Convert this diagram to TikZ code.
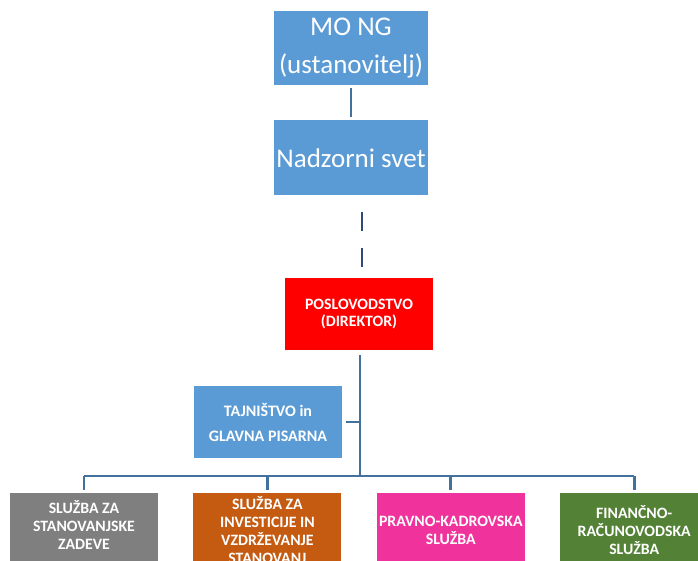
\documentclass[tikz,border=0pt]{standalone}
\usepackage{fontspec}
\setmainfont{Carlito}
\usetikzlibrary{positioning}
\definecolor{boxblue}{HTML}{5B9BD5}
\definecolor{linkblue}{HTML}{41719C}
\definecolor{dashnavy}{HTML}{2E4A78}
\definecolor{dirred}{HTML}{FF0000}
\definecolor{sgray}{HTML}{7F7F7F}
\definecolor{sorange}{HTML}{C55A11}
\definecolor{spink}{HTML}{F0339C}
\definecolor{sgreen}{HTML}{538135}

\begin{document}
\begin{tikzpicture}[x=1pt, y=-1pt,
        node distance=35pt and 35pt,
        box/.style={fill=boxblue, text=white, align=center, minimum width=154pt, minimum height=74pt, inner sep=0pt},
        unit/.style={text=white, align=center, font=\bfseries\fontsize{15.8}{17.8}\selectfont, minimum width=148pt, minimum height=74pt, inner sep=0pt},
        link/.style={draw=linkblue, line width=2.8pt}
    ]
        \useasboundingbox (0,0) rectangle (698,561);
        \clip (0,0) rectangle (698,561);

        \node[box, font=\fontsize{27}{38}\selectfont] (mong) at (351,48) {MO NG\\(ustanovitelj)};
        \node[box, below=35pt of mong, minimum height=75pt, font=\fontsize{27}{30}\selectfont] (nadzor) {Nadzorni svet};
        \node[unit, fill=dirred, minimum height=72pt] (direktor) at (359,314) {POSLOVODSTVO\\(DIREKTOR)};
        \node[unit, fill=boxblue, minimum height=72pt, font=\bfseries\fontsize{16}{25}\selectfont] (tajnistvo) at (268,422) {TAJNIŠTVO in\\GLAVNA PISARNA};

        % sluzbe
        \node[unit, fill=sgray, text depth=10pt] (stanovanja) at (84,530) {SLUŽBA ZA\\STANOVANJSKE\\ZADEVE};
        \node[unit, fill=sorange, right=of stanovanja] (investicije) {SLUŽBA ZA\\INVESTICIJE IN\\VZDRŽEVANJE\\STANOVANJ};
        \node[unit, fill=spink, right=of investicije] (pravna) {PRAVNO-KADROVSKA\\SLUŽBA};
        \node[unit, fill=sgreen, right=of pravna] (finance) {FINANČNO-\\RAČUNOVODSKA\\SLUŽBA};

        \coordinate (bus) at (360,476);

        \draw[link, shorten <=3pt, shorten >=3pt] (mong) -- (nadzor);
        \draw[draw=dashnavy, line width=2.2pt, dash pattern=on 19pt off 17pt, shorten <=16pt, shorten >=11pt]
            (nadzor.south -| direktor.north) ++(3,0) -- ([xshift=3pt]direktor.north);
        \draw[link, shorten <=5pt] (direktor.south -| bus) -- (bus);
        \draw[link, shorten <=4pt] (tajnistvo.east) -- (tajnistvo.east -| bus);
        \draw[link] (stanovanja.north |- bus) -- (finance.north |- bus);
        \foreach \s in {stanovanja, investicije, pravna, finance}
            \draw[link, shorten >=3pt] (\s.north |- bus) -- (\s.north);
\end{tikzpicture}
\end{document}
